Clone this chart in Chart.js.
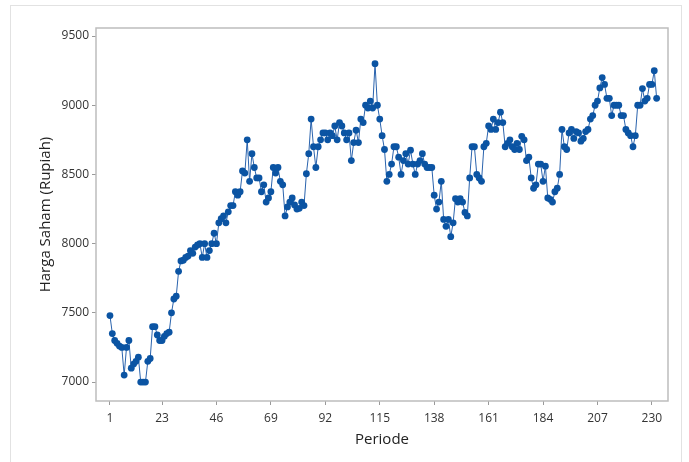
<!DOCTYPE html>
<html>
<head>
<meta charset="utf-8">
<script src="https://cdn.jsdelivr.net/npm/chart.js@4/dist/chart.umd.min.js"></script>
<style>
  body { margin: 0; background: #fff; }
  #wrap { position: relative; width: 689px; height: 462px; overflow: hidden; }
  #frame { position: absolute; left: 10px; top: 5px; width: 672px; height: 470px; border: 1px solid #e2e2e2; box-sizing: border-box; }
  #chart { position: absolute; left: 0; top: 0; }
</style>
</head>
<body>
<div id="wrap">
  <div id="frame"></div>
  <canvas id="chart" width="689" height="462"></canvas>
</div>
<script>
// harga saham per periode (1..232)
const harga = [
  7480, 7350, 7300, 7280, 7260, 7250, 7050, 7250, 7300, 7100,
  7130, 7150, 7180, 7000, 7000, 7000, 7150, 7170, 7400, 7400,
  7340, 7300, 7300, 7330, 7350, 7360, 7500, 7600, 7620, 7800,
  7875, 7880, 7900, 7910, 7950, 7930, 7975, 7990, 8000, 7900,
  8000, 7900, 7950, 8000, 8075, 8000, 8150, 8180, 8200, 8150,
  8230, 8275, 8275, 8375, 8350, 8375, 8525, 8510, 8750, 8450,
  8650, 8550, 8475, 8475, 8375, 8425, 8300, 8330, 8375, 8550,
  8510, 8550, 8450, 8425, 8200, 8265, 8300, 8330, 8280, 8250,
  8255, 8300, 8275, 8505, 8650, 8900, 8700, 8550, 8700, 8750,
  8800, 8800, 8750, 8800, 8780, 8850, 8750, 8875, 8850, 8800,
  8750, 8800, 8600, 8730, 8820, 8730, 8900, 8875, 9000, 8980,
  9030, 8980, 9300, 9000, 8900, 8780, 8680, 8450, 8500, 8575,
  8700, 8700, 8625, 8500, 8600, 8650, 8575, 8675, 8575, 8500,
  8575, 8600, 8650, 8575, 8550, 8550, 8550, 8350, 8250, 8300,
  8450, 8175, 8125, 8175, 8050, 8150, 8325, 8300, 8325, 8300,
  8225, 8200, 8475, 8700, 8700, 8500, 8475, 8450, 8700, 8725,
  8850, 8825, 8900, 8825, 8875, 8950, 8875, 8700, 8725, 8750,
  8700, 8680, 8725, 8680, 8775, 8750, 8600, 8625, 8475, 8400,
  8425, 8575, 8575, 8450, 8560, 8330, 8320, 8300, 8375, 8400,
  8500, 8825, 8700, 8680, 8800, 8825, 8760, 8810, 8800, 8740,
  8760, 8810, 8825, 8900, 8925, 9000, 9030, 9125, 9200, 9150,
  9050, 9050, 8925, 9000, 9000, 9000, 8925, 8925, 8825, 8800,
  8780, 8700, 8780, 9000, 9000, 9120, 9030, 9050, 9150, 9150,
  9250, 9050
];
const xTicks = [1, 23, 46, 69, 92, 115, 138, 161, 184, 207, 230];
const yTicks = [7000, 7500, 8000, 8500, 9000, 9500];

const points = harga.map((v, i) => ({ x: i + 1, y: v }));

const framePlugin = {
  id: 'frame',
  afterDatasetsDraw(chart) {
    const { ctx, chartArea: a } = chart;
    ctx.save();
    ctx.strokeStyle = '#bdbdbd';
    ctx.lineWidth = 1.5;
    ctx.strokeRect(a.left, a.top, a.right - a.left, a.bottom - a.top);
    ctx.restore();
  }
};

const tickFont = { family: "'Open Sans', sans-serif", size: 12 };
const titleFont = { family: "'Open Sans', sans-serif", size: 15 };

new Chart(document.getElementById('chart'), {
  type: 'line',
  data: {
    datasets: [{
      data: points,
      borderColor: '#2a63ad',
      borderWidth: 1,
      pointBackgroundColor: '#0b54a3',
      pointBorderColor: '#0b54a3',
      pointBorderWidth: 0,
      pointRadius: 3.4,
      tension: 0
    }]
  },
  options: {
    responsive: false,
    animation: false,
    devicePixelRatio: 1,
    layout: { padding: { top: 28, right: 21, left: 30, bottom: 0 } },
    plugins: { legend: { display: false }, tooltip: { enabled: false } },
    scales: {
      x: {
        type: 'linear',
        min: -4.9,
        max: 236.8,
        afterBuildTicks: s => { s.ticks = xTicks.map(v => ({ value: v })); },
        afterFit: s => { s.height = 61; },
        grid: { drawOnChartArea: false, drawTicks: true, tickLength: 4, color: '#9a9a9a' },
        border: { display: false },
        ticks: { font: tickFont, color: '#333', padding: 6, maxRotation: 0, autoSkip: false, callback: v => String(v) },
        title: { display: true, text: 'Periode', font: titleFont, color: '#222', padding: { top: 0, bottom: 13 } }
      },
      y: {
        min: 6863,
        max: 9558,
        afterBuildTicks: s => { s.ticks = yTicks.map(v => ({ value: v })); },
        afterFit: s => { s.width = 66; },
        grid: { drawOnChartArea: false, drawTicks: true, tickLength: 4, color: '#9a9a9a' },
        border: { display: false },
        ticks: { font: tickFont, color: '#333', padding: 3, callback: v => String(v) },
        title: { display: true, text: 'Harga Saham (Rupiah)', font: titleFont, color: '#222', padding: { top: 7, bottom: 0 } }
      }
    }
  },
  plugins: [framePlugin]
});
</script>
</body>
</html>
